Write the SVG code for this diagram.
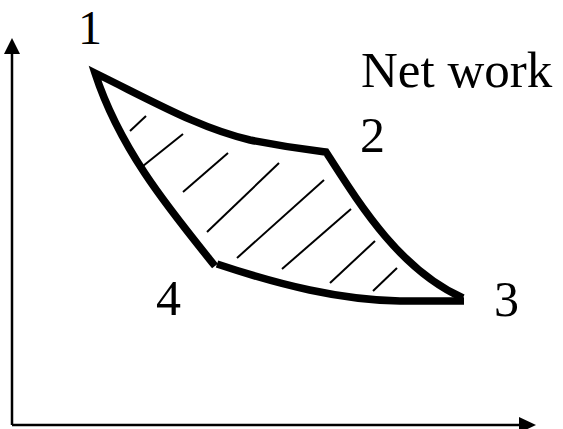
<svg xmlns="http://www.w3.org/2000/svg" width="563" height="429" viewBox="0 0 563 429">
<style>
.axis{stroke:#000;stroke-width:2.5;fill:none}
.cyc{stroke:#000;stroke-width:7.5;fill:none;stroke-linejoin:miter;stroke-miterlimit:10}
.hatch{stroke:#000;stroke-width:2;fill:none}
.lbl{font-family:"Liberation Serif","Times New Roman",serif;font-size:50px;fill:#000}
</style>
<rect width="563" height="429" fill="#fff"/>
<g id="connectors">
<g id="axes">
<line class="axis" x1="12" y1="50" x2="12" y2="425"/>
<polygon points="12,38 4,54 20,54" fill="#000"/>
<line class="axis" x1="12" y1="425" x2="522" y2="425"/>
<polygon points="536,425 519,417 519,433" fill="#000"/>
</g>
<path id="cycle-4-1-2-3" class="cyc" d="M215,266 C170,210 120,150 95,73 C160,105 200,128 250,140 C290,148 310,150 326,152 C360,205 400,270 463,298"/>
<path id="cycle-3-4" class="cyc" d="M464,301 L400,301 C340,300 280,285 217,264"/>
<g id="hatching">
<line class="hatch" x1="130" y1="131" x2="146" y2="116"/>
<line class="hatch" x1="143" y1="166" x2="183" y2="134"/>
<line class="hatch" x1="183" y1="192" x2="228" y2="153"/>
<line class="hatch" x1="207" y1="232" x2="279" y2="163"/>
<line class="hatch" x1="237" y1="258" x2="324" y2="180"/>
<line class="hatch" x1="282" y1="269" x2="351" y2="209"/>
<line class="hatch" x1="330" y1="283" x2="375" y2="241"/>
<line class="hatch" x1="373" y1="291" x2="397" y2="268"/>
</g>
</g>
<g id="label-1"><text class="lbl" x="78" y="44" style="font-size:48px">1</text></g>
<g id="label-2"><text class="lbl" x="360" y="152">2</text></g>
<g id="label-3"><text class="lbl" x="494" y="316">3</text></g>
<g id="label-4"><text class="lbl" x="156" y="315">4</text></g>
<g id="label-net-work"><text class="lbl" x="361" y="87" style="font-size:51px">Net work</text></g>
</svg>
